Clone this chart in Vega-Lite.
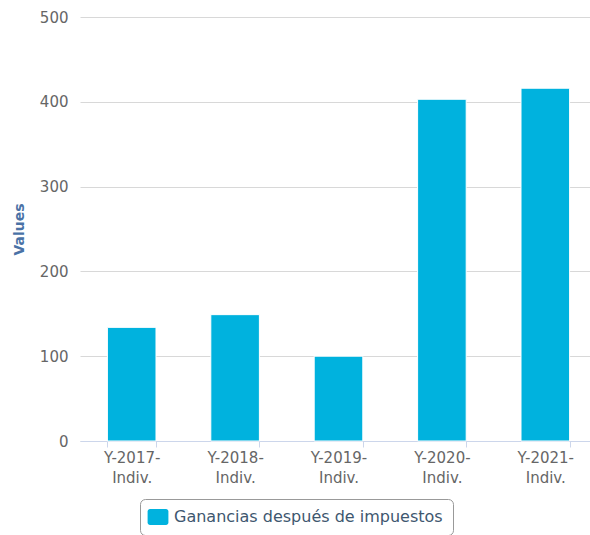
{
  "$schema": "https://vega.github.io/schema/vega-lite/v6.json",
  "width": 517,
  "height": 424,
  "autosize": {"type": "pad"},
  "padding": {"left": 12, "top": 10, "right": 0, "bottom": 0},
  "data": {
    "values": [
      {"category": "Y-2017-Indiv.", "value": 134, "series": "Ganancias después de impuestos"},
      {"category": "Y-2018-Indiv.", "value": 149, "series": "Ganancias después de impuestos"},
      {"category": "Y-2019-Indiv.", "value": 100, "series": "Ganancias después de impuestos"},
      {"category": "Y-2020-Indiv.", "value": 403, "series": "Ganancias después de impuestos"},
      {"category": "Y-2021-Indiv.", "value": 416, "series": "Ganancias después de impuestos"}
    ]
  },
  "mark": {"type": "bar", "stroke": "#ffffff", "strokeWidth": 1},
  "encoding": {
    "x": {
      "field": "category",
      "type": "nominal",
      "sort": null,
      "scale": {"paddingInner": 0.53, "paddingOuter": 0.265},
      "axis": {
        "title": null,
        "labelAngle": 0,
        "labelExpr": "[slice(datum.label, 0, 7), slice(datum.label, 7)]",
        "labelLineHeight": 20,
        "labelFontSize": 15,
        "labelColor": "#666666",
        "labelPadding": 3,
        "labelBaseline": "top",
        "domainColor": "#ccd6eb",
        "tickColor": "#ccd6eb",
        "tickBand": "extent",
        "tickSize": 6,
        "grid": false
      }
    },
    "y": {
      "field": "value",
      "type": "quantitative",
      "scale": {"domain": [0, 500], "nice": false},
      "axis": {
        "title": "Values",
        "titleFontSize": 14,
        "titleFontWeight": "bold",
        "titleColor": "#4a72a6",
        "titlePadding": 13,
        "values": [0, 100, 200, 300, 400, 500],
        "labelFontSize": 15,
        "labelColor": "#666666",
        "labelPadding": 12,
        "ticks": false,
        "domain": false,
        "grid": true,
        "gridColor": "#d8d8d8",
        "gridWidth": 1
      }
    },
    "color": {
      "field": "series",
      "type": "nominal",
      "scale": {"range": ["#00b2de"]},
      "legend": {
        "title": null,
        "orient": "none",
        "legendX": 60,
        "legendY": 482,
        "strokeColor": "#999999",
        "fillColor": "#ffffff",
        "cornerRadius": 5,
        "padding": 10,
        "symbolType": "M-1.0,-1H1.0A0.3,0.3 0 0 1 1.3,-0.7V0.7A0.3,0.3 0 0 1 1.0,1H-1.0A0.3,0.3 0 0 1 -1.3,0.7V-0.7A0.3,0.3 0 0 1 -1.0,-1Z",
        "symbolSize": 256,
        "symbolStrokeWidth": 0,
        "symbolOpacity": 1,
        "labelFontSize": 16,
        "labelColor": "#3e576f",
        "labelOffset": 8,
        "labelLimit": 400
      }
    }
  },
  "config": {
    "view": {"stroke": null},
    "font": "DejaVu Sans"
  }
}
